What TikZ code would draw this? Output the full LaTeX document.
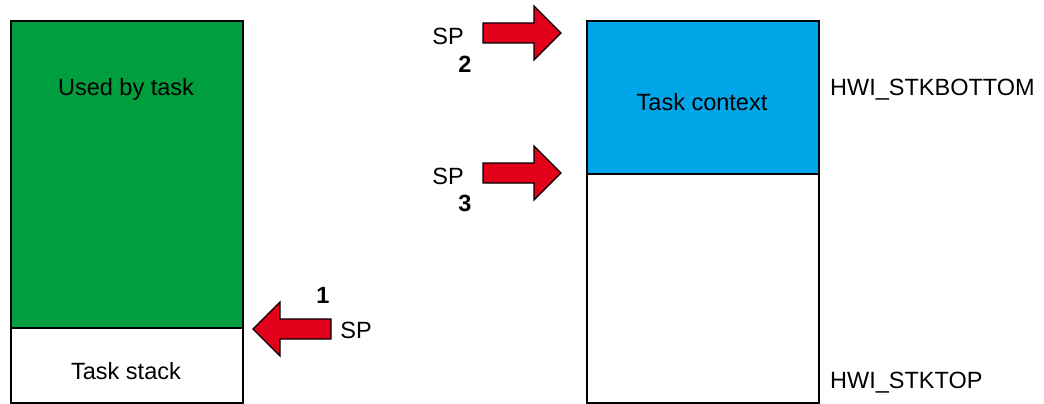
\documentclass[tikz,border=0pt]{standalone}
\usepackage{fontspec}
\setmainfont{Liberation Sans}
\definecolor{taskgreen}{RGB}{0,158,61}
\definecolor{ctxblue}{RGB}{0,166,232}
\definecolor{arrowred}{RGB}{226,0,26}
\tikzset{
  stackbox/.style={draw=black, line width=2pt, inner sep=0pt, anchor=north west},
  lbl/.style={font=\fontsize{23.5}{26}\selectfont, inner sep=0pt},
  num/.style={font=\fontsize{23.5}{26}\selectfont\bfseries, inner sep=0pt},
  blockarrow/.pic={
    \filldraw[fill=arrowred, draw=black, line width=1.4pt, line join=miter]
      (0,0) -- (-27,27) -- (-27,10) -- (-78,10) -- (-78,-10) -- (-27,-10) -- (-27,-27) -- cycle;
  }
}
\begin{document}
\begin{tikzpicture}[x=1pt, y=-1pt]
\useasboundingbox (0,0) rectangle (1044,404);
% task stack (left)
\node[stackbox, fill=taskgreen, minimum width=232pt, minimum height=307pt] (used) at (10,20) {};
\node[stackbox, fill=white, minimum width=232pt, minimum height=75pt] (tstack) at (10,327) {};
\node[lbl] (usedlbl) at (126,89) {Used by task};
\node[lbl] (tstacklbl) at (126,371) {Task stack};
% hwi stack (right)
\node[stackbox, fill=ctxblue, minimum width=232pt, minimum height=153pt] (ctx) at (586,20) {};
\node[stackbox, fill=white, minimum width=232pt, minimum height=229pt] (hfree) at (586,173) {};
\node[lbl] (ctxlbl) at (702,102) {Task context};
\node[lbl, anchor=west] (hbot) at (830,90) {HWI\_STKBOTTOM};
\node[lbl, anchor=west] (htop) at (830,383) {HWI\_STKTOP};
% stack pointer markers
\coordinate (tip1) at (253,329);
\coordinate (tip2) at (561,33);
\coordinate (tip3) at (561,173);
\pic[xscale=-1] at (tip1) {blockarrow};
\pic at (tip2) {blockarrow};
\pic at (tip3) {blockarrow};
\node[num] (n1) at (323,295) {1};
\node[lbl] (sp1) at (356,330) {SP};
\node[lbl] (sp2) at (448,36) {SP};
\node[num] (n2) at (465,64) {2};
\node[lbl] (sp3) at (448,176) {SP};
\node[num] (n3) at (465,203) {3};
\end{tikzpicture}
\end{document}
